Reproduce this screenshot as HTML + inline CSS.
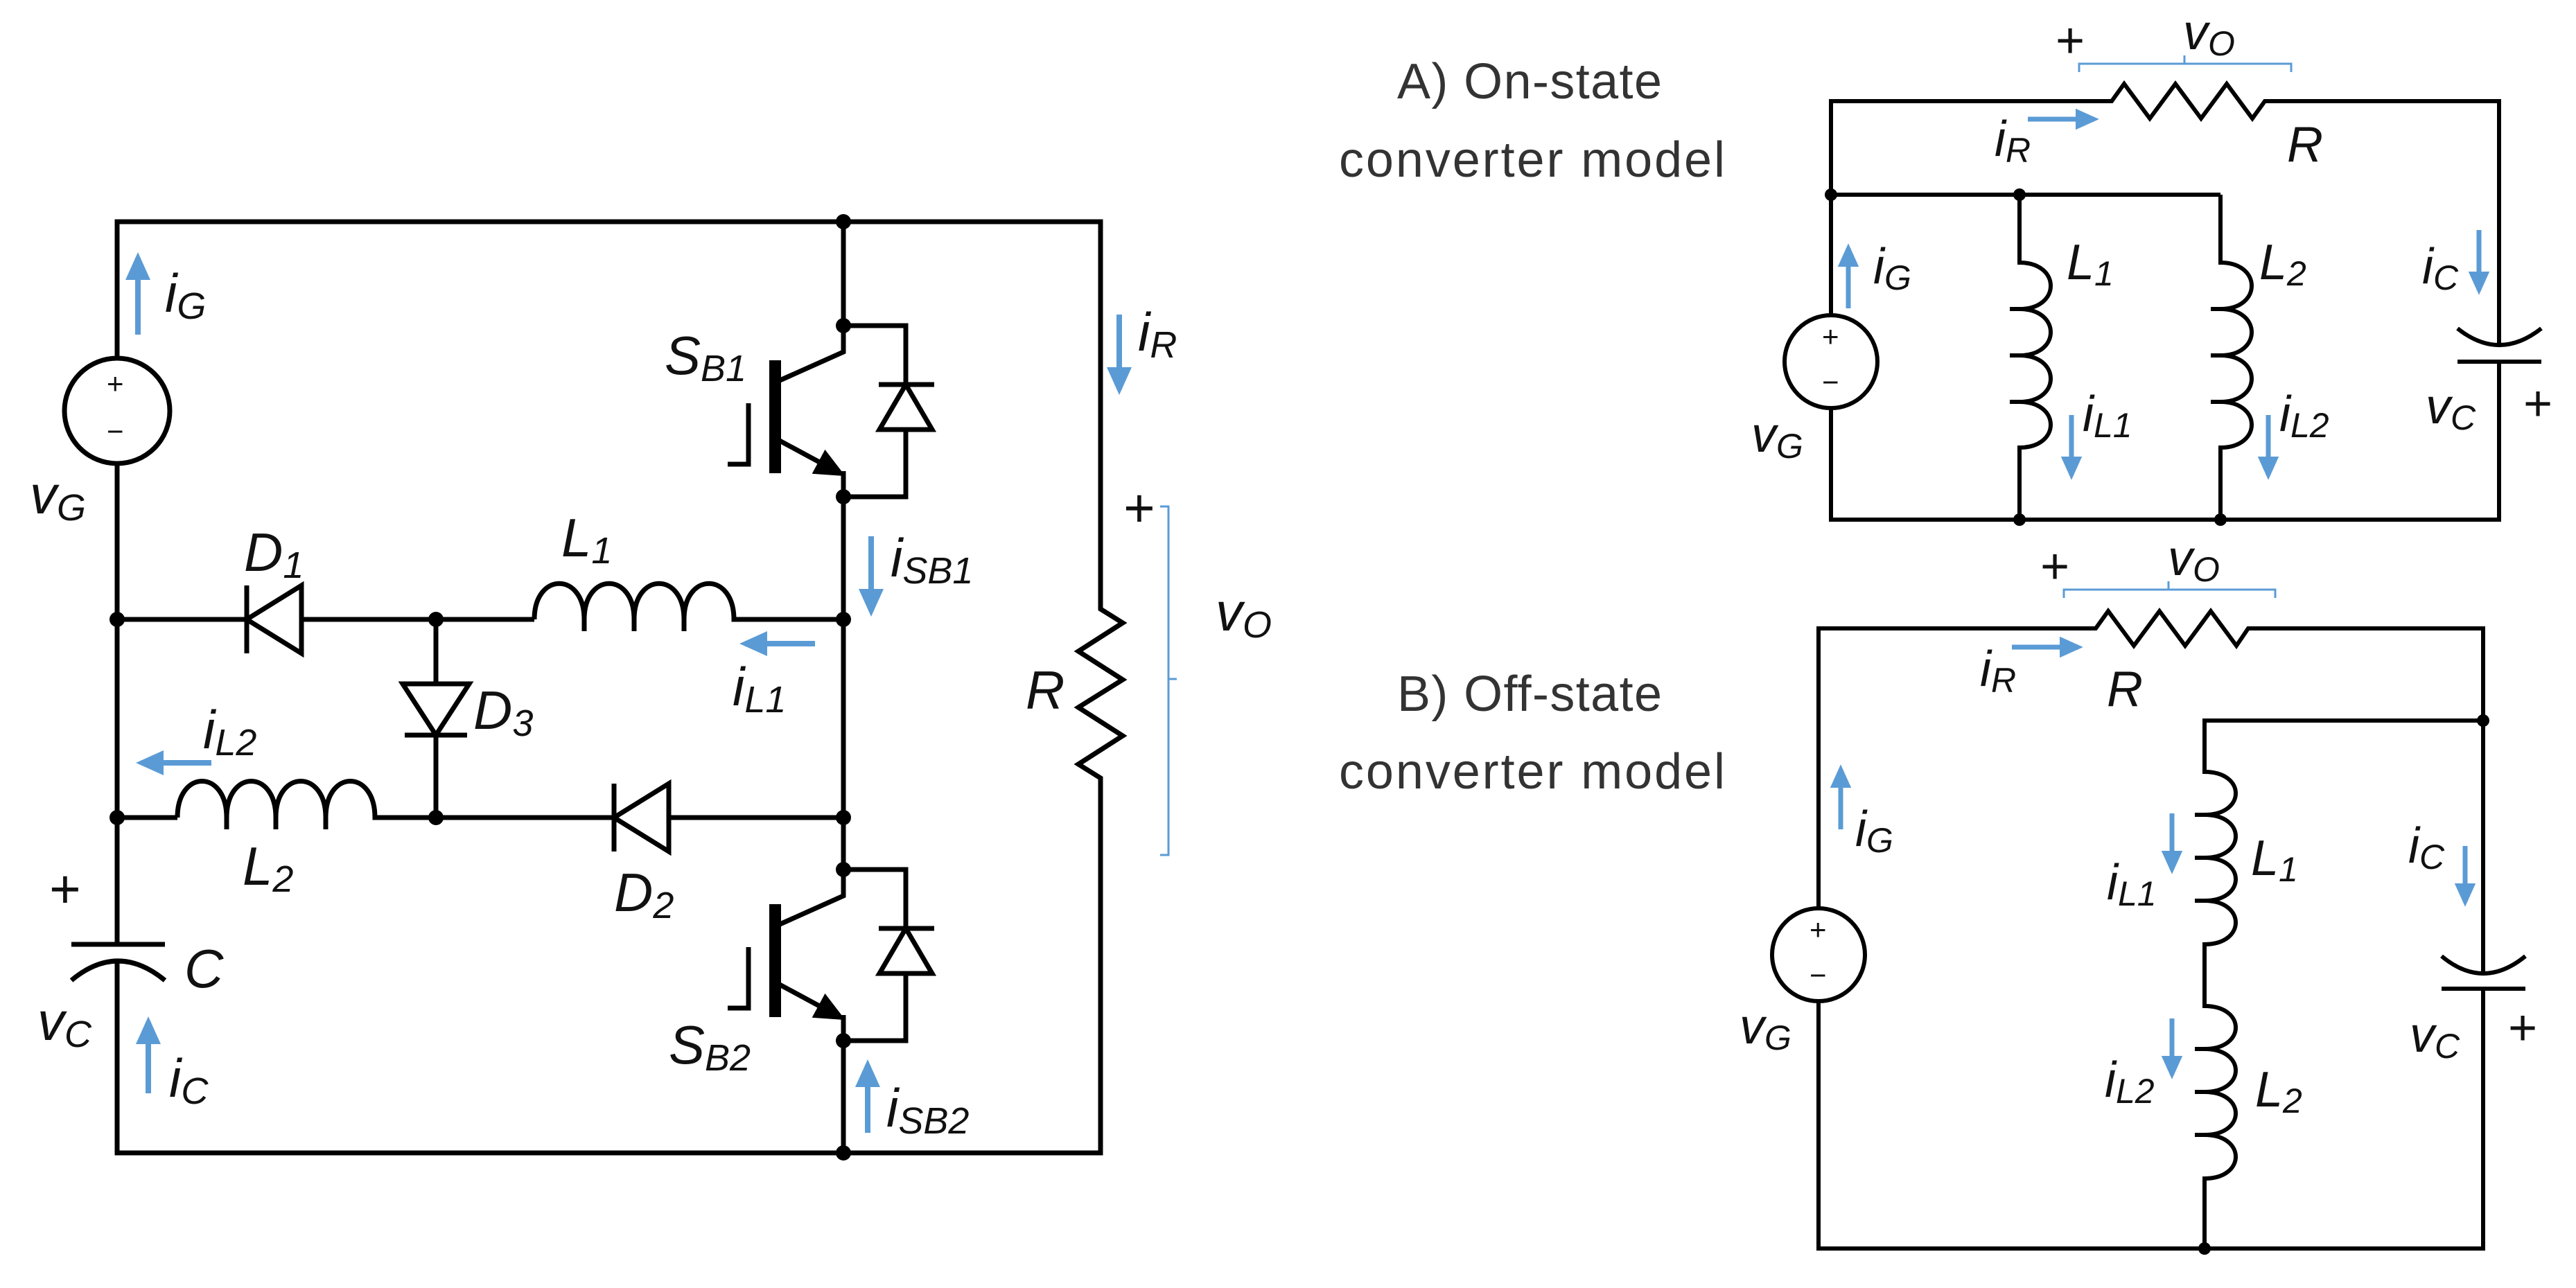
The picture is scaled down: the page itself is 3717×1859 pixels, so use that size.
<!DOCTYPE html>
<html><head><meta charset="utf-8"><style>
html,body{margin:0;padding:0;background:#fff}
svg{display:block}
text{font-family:"Liberation Sans",sans-serif;font-style:italic;fill:#111}
.L{font-size:78px}.R{font-size:72px}
.t{font-style:normal;fill:#333;font-size:72px}
.s{font-style:normal;font-size:42px}
</style></head><body>
<svg width="3717" height="1859" viewBox="0 0 3717 1859" xmlns="http://www.w3.org/2000/svg">
<defs>
<marker id="b" viewBox="0 0 10 10" refX="8" refY="5" markerUnits="userSpaceOnUse" markerWidth="40" markerHeight="40" orient="auto"><path d="M0,0.5 L10,5 L0,9.5z" fill="#5b9bd5"/></marker>
<marker id="bs" viewBox="0 0 10 10" refX="8" refY="5" markerUnits="userSpaceOnUse" markerWidth="34" markerHeight="34" orient="auto"><path d="M0,0.5 L10,5 L0,9.5z" fill="#5b9bd5"/></marker>
<marker id="k" viewBox="0 0 10 10" refX="8" refY="5" markerUnits="userSpaceOnUse" markerWidth="44" markerHeight="44" orient="auto"><path d="M0,0.5 L10,5 L0,9.5z" fill="#000"/></marker>
<g id="igbt" fill="none" stroke="#000" stroke-width="7">
<path d="M1217,470 V508 L1123,550"/>
<rect x="1110" y="520" width="17" height="163" fill="#000" stroke="none"/>
<path d="M1123,635 L1212,683" marker-end="url(#k)"/>
<path d="M1217,680 V717"/>
<path d="M1080,582 V670 H1050"/>
<path d="M1217,470 H1307 V555 M1268,555 H1348 M1307,620 V717 H1217"/>
<path d="M1307,555 L1269,620 H1345 Z"/>
<circle cx="1217" cy="470" r="11" fill="#000" stroke="none"/>
<circle cx="1217" cy="717" r="11" fill="#000" stroke="none"/>
</g>
</defs>

<!-- LEFT CIRCUIT -->
<g fill="none" stroke="#000" stroke-width="7">
<path d="M169,517 V320 H1588 V879 L1620,899 L1556,940 L1620,981 L1556,1021 L1620,1062 L1556,1103 L1588,1123 V1664 H169 V1387"/>
<path d="M169,1363 V669"/>
<circle cx="169" cy="593" r="76"/>
<path d="M103,1363 H238"/>
<path d="M103,1415 Q170,1359 238,1415"/>
<path d="M1217,320 V470 M1217,717 V1255 M1217,1502 V1664"/>
<path d="M169,894 H356 M435,894 H771"/>
<path d="M356,845 V943"/>
<path d="M356,894 L435,845 V943 Z"/>
<path d="M771,894 C771,825 843,825 843,894 M843,894 V911 M843,894 C843,825 915,825 915,894 M915,894 V911 M915,894 C915,825 987,825 987,894 M987,894 V911 M987,894 C987,825 1059,825 1059,894 H1217"/>
<path d="M169,1180 H256"/>
<path d="M256,1180 C256,1110 327,1110 327,1180 M327,1180 V1197 M327,1180 C327,1110 398,1110 398,1180 M398,1180 V1197 M398,1180 C398,1110 470,1110 470,1180 M470,1180 V1197 M470,1180 C470,1110 541,1110 541,1180 H886"/>
<path d="M886,1131 V1229"/>
<path d="M886,1180 L965,1131 V1229 Z"/>
<path d="M965,1180 H1217"/>
<path d="M629,894 V987 M629,1061 V1180"/>
<path d="M581,987 H677 L629,1061 Z"/>
<path d="M584,1061 H674"/>
</g>
<use href="#igbt"/>
<use href="#igbt" transform="translate(0,785)"/>
<g fill="#000">
<circle cx="1217" cy="320" r="11"/><circle cx="1217" cy="894" r="11"/><circle cx="1217" cy="1180" r="11"/><circle cx="1217" cy="1664" r="11"/>
<circle cx="169" cy="894" r="11"/><circle cx="169" cy="1180" r="11"/><circle cx="629" cy="894" r="11"/><circle cx="629" cy="1180" r="11"/>
</g>
<text class="s" x="154" y="568">+</text><text class="s" x="154" y="637">−</text>
<path d="M1674,731 H1686 V1234 H1674 M1686,980 H1698" fill="none" stroke="#5b9bd5" stroke-width="3"/>
<g stroke="#5b9bd5" stroke-width="8" fill="none">
<path d="M199,483 V372" marker-end="url(#b)"/>
<path d="M1615,454 V562" marker-end="url(#b)"/>
<path d="M1257,774 V882" marker-end="url(#b)"/>
<path d="M1176,929 H1075" marker-end="url(#b)"/>
<path d="M305,1101 H204" marker-end="url(#b)"/>
<path d="M1252,1635 V1537" marker-end="url(#b)"/>
<path d="M214,1578 V1475" marker-end="url(#b)"/>
</g>
<g class="L">
<text x="238" y="450">i<tspan font-size="54" dy="10">G</tspan></text>
<text x="43" y="741">v<tspan font-size="54" dy="10">G</tspan></text>
<text x="352" y="824">D<tspan font-size="54" dy="10">1</tspan></text>
<text x="810" y="803">L<tspan font-size="54" dy="10">1</tspan></text>
<text x="1057" y="1018">i<tspan font-size="54" dy="10">L1</tspan></text>
<text x="1285" y="832">i<tspan font-size="54" dy="10">SB1</tspan></text>
<text x="959" y="540">S<tspan font-size="54" dy="10">B1</tspan></text>
<text x="683" y="1052">D<tspan font-size="54" dy="10">3</tspan></text>
<text x="293" y="1080">i<tspan font-size="54" dy="10">L2</tspan></text>
<text x="350" y="1277">L<tspan font-size="54" dy="10">2</tspan></text>
<text x="886" y="1315">D<tspan font-size="54" dy="10">2</tspan></text>
<text x="965" y="1535">S<tspan font-size="54" dy="10">B2</tspan></text>
<text x="1279" y="1626">i<tspan font-size="54" dy="10">SB2</tspan></text>
<text x="70" y="1310">+</text>
<text x="266" y="1425">C</text>
<text x="54" y="1501">v<tspan font-size="54" dy="10">C</tspan></text>
<text x="244" y="1583">i<tspan font-size="54" dy="10">C</tspan></text>
<text x="1642" y="506">i<tspan font-size="54" dy="10">R</tspan></text>
<text x="1620" y="760">+</text>
<text x="1480" y="1023">R</text>
<text x="1754" y="910">v<tspan font-size="54" dy="10">O</tspan></text>
</g>

<!-- RIGHT A -->
<g fill="none" stroke="#000" stroke-width="6">
<path d="M2642,455 V146 H3047 L3065,121 L3102,171 L3139,121 L3176,171 L3213,121 L3250,171 L3268,146 H3606 V496"/>
<path d="M3606,522 V750 H2642 V589"/>
<circle cx="2642" cy="522" r="67"/>
<path d="M3546,474 Q3606,522 3667,474 M3546,522 H3667"/>
<path d="M2642,281 H3204"/>
<path d="M2914,281 V379 C2974,379 2974,446 2914,446 M2914,446 H2900 M2914,446 C2974,446 2974,513 2914,513 M2914,513 H2900 M2914,513 C2974,513 2974,580 2914,580 M2914,580 H2900 M2914,580 C2974,580 2974,646 2914,646 V750"/>
<path d="M3204,281 V379 C3264,379 3264,446 3204,446 M3204,446 H3190 M3204,446 C3264,446 3264,513 3204,513 M3204,513 H3190 M3204,513 C3264,513 3264,580 3204,580 M3204,580 H3190 M3204,580 C3264,580 3264,646 3204,646 V750"/>
</g>
<g fill="#000"><circle cx="2642" cy="281" r="9"/><circle cx="2914" cy="281" r="9"/><circle cx="2914" cy="750" r="9"/><circle cx="3204" cy="750" r="9"/></g>
<text class="s" x="2629" y="500">+</text><text class="s" x="2629" y="566">−</text>
<path d="M3000,104 V92 H3306 V104 M3152,92 V80" fill="none" stroke="#5b9bd5" stroke-width="3"/>

<!-- RIGHT B -->
<g fill="none" stroke="#000" stroke-width="6">
<path d="M2624,1311 V907 H3024 L3042,882 L3079,932 L3116,882 L3153,932 L3190,882 L3227,932 L3244,907 H3583 V1403"/>
<path d="M3583,1427 V1802 H2624 V1445"/>
<circle cx="2624" cy="1378" r="67"/>
<path d="M3523,1380 Q3583,1430 3644,1380 M3523,1427 H3644"/>
<path d="M3583,1040 H3181 V1114 C3241,1114 3241,1176 3181,1176 M3181,1176 H3167 M3181,1176 C3241,1176 3241,1238 3181,1238 M3181,1238 H3167 M3181,1238 C3241,1238 3241,1300 3181,1300 M3181,1300 H3167 M3181,1300 C3241,1300 3241,1363 3181,1363 V1452 C3241,1452 3241,1514 3181,1514 M3181,1514 H3167 M3181,1514 C3241,1514 3241,1576 3181,1576 M3181,1576 H3167 M3181,1576 C3241,1576 3241,1638 3181,1638 M3181,1638 H3167 M3181,1638 C3241,1638 3241,1701 3181,1701 V1802"/>
</g>
<g fill="#000"><circle cx="3583" cy="1040" r="9"/><circle cx="3181" cy="1802" r="9"/></g>
<text class="s" x="2611" y="1356">+</text><text class="s" x="2611" y="1422">−</text>
<path d="M2978,863 V851 H3283 V863 M3129,851 V839" fill="none" stroke="#5b9bd5" stroke-width="3"/>

<g stroke="#5b9bd5" stroke-width="7" fill="none">
<path d="M2926,172 H3022" marker-end="url(#bs)"/>
<path d="M2667,445 V358" marker-end="url(#bs)"/>
<path d="M2989,599 V686" marker-end="url(#bs)"/>
<path d="M3273,599 V686" marker-end="url(#bs)"/>
<path d="M3577,332 V419" marker-end="url(#bs)"/>
<path d="M2903,934 H2999" marker-end="url(#bs)"/>
<path d="M2656,1197 V1110" marker-end="url(#bs)"/>
<path d="M3134,1174 V1255" marker-end="url(#bs)"/>
<path d="M3134,1470 V1551" marker-end="url(#bs)"/>
<path d="M3557,1221 V1302" marker-end="url(#bs)"/>
</g>
<g class="R">
<text x="2965" y="83">+</text>
<text x="3150" y="71">v<tspan font-size="50" dy="9">O</tspan></text>
<text x="2878" y="225">i<tspan font-size="50" dy="9">R</tspan></text>
<text x="3300" y="233">R</text>
<text x="2703" y="409">i<tspan font-size="50" dy="9">G</tspan></text>
<text x="2982" y="403">L<tspan font-size="50" dy="9">1</tspan></text>
<text x="3260" y="403">L<tspan font-size="50" dy="9">2</tspan></text>
<text x="3495" y="409">i<tspan font-size="50" dy="9">C</tspan></text>
<text x="3005" y="622">i<tspan font-size="50" dy="9">L1</tspan></text>
<text x="3289" y="622">i<tspan font-size="50" dy="9">L2</tspan></text>
<text x="3500" y="611">v<tspan font-size="50" dy="9">C</tspan></text>
<text x="3640" y="607">+</text>
<text x="2527" y="652">v<tspan font-size="50" dy="9">G</tspan></text>
<text x="2943" y="842">+</text>
<text x="3128" y="830">v<tspan font-size="50" dy="9">O</tspan></text>
<text x="2857" y="990">i<tspan font-size="50" dy="9">R</tspan></text>
<text x="3040" y="1019">R</text>
<text x="2677" y="1221">i<tspan font-size="50" dy="9">G</tspan></text>
<text x="3040" y="1298">i<tspan font-size="50" dy="9">L1</tspan></text>
<text x="3248" y="1263">L<tspan font-size="50" dy="9">1</tspan></text>
<text x="3475" y="1245">i<tspan font-size="50" dy="9">C</tspan></text>
<text x="3037" y="1583">i<tspan font-size="50" dy="9">L2</tspan></text>
<text x="3254" y="1597">L<tspan font-size="50" dy="9">2</tspan></text>
<text x="3477" y="1518">v<tspan font-size="50" dy="9">C</tspan></text>
<text x="3618" y="1508">+</text>
<text x="2510" y="1506">v<tspan font-size="50" dy="9">G</tspan></text>
</g>
<text class="t" x="2016" y="142" textLength="382">A) On-state</text>
<text class="t" x="1932" y="255" textLength="557">converter model</text>
<text class="t" x="2016" y="1026" textLength="382">B) Off-state</text>
<text class="t" x="1932" y="1138" textLength="557">converter model</text>
</svg>
</body></html>
